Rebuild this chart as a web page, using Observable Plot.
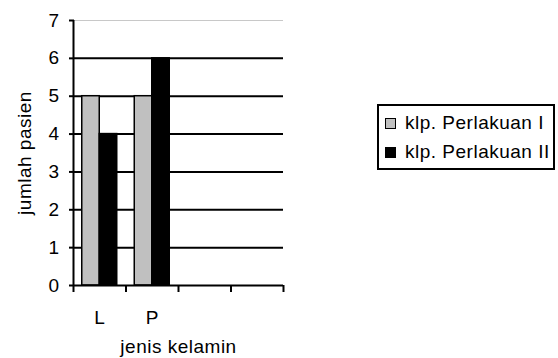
<!DOCTYPE html>
<html>
<head>
<meta charset="utf-8">
<script src="https://cdn.jsdelivr.net/npm/d3@7"></script>
<script src="https://cdn.jsdelivr.net/npm/@observablehq/plot@0.6"></script>
<style>
  body { margin: 0; background: #fff; }
  #chart { position: relative; width: 558px; height: 358px; font-family: "Liberation Sans", Arial, sans-serif; }
  #chart svg { display: block; }
  .legend { position: absolute; left: 377px; top: 104px; width: 178px; height: 66px; box-sizing: border-box;
            border: 2px solid #000; background: #fff; font-size: 19px; letter-spacing: 0.5px; color: #000; }
  .legend .item { position: absolute; left: 6px; height: 20px; display: flex; align-items: center; white-space: nowrap; }
  .legend .swatch { width: 11px; height: 11px; box-sizing: border-box; border: 1.5px solid #000; margin-right: 9px; }
</style>
</head>
<body>
<div id="chart"></div>
<script>
// Patients per sex, for the two treatment groups
const categories = ["L", "P"];
const slotCount = 4;                       // category slots on the x axis (last two empty)
const seriesNames = ["klp. Perlakuan I", "klp. Perlakuan II"];
const perlakuanI = [5, 5];
const perlakuanII = [4, 6];
const yTicks = [0, 1, 2, 3, 4, 5, 6, 7];
const xLabel = "jenis kelamin";
const yLabel = "jumlah pasien";
const seriesColors = ["#c0c0c0", "#000000"];

const seriesValues = [perlakuanI, perlakuanII];
const rows = categories.flatMap((cat, i) =>
  seriesValues.map((vals, s) => ({cat, index: i, series: s, value: vals[i]}))
);

// Two bars per slot, each a third of the slot wide, centred on the slot
const barWidth = 1 / 3;
const barX1 = d => d.index + 0.5 + (d.series - 1) * barWidth;
const barX2 = d => barX1(d) + barWidth;

const font = "'Liberation Sans', Arial, sans-serif";
const fontSize = 19;
const yMax = yTicks[yTicks.length - 1];

const chart = Plot.plot({
  width: 558,
  height: 358,
  marginLeft: 73,
  marginRight: 275,
  marginTop: 20,
  marginBottom: 73,
  style: {fontFamily: font, fontSize: `${fontSize}px`, color: "#000", background: "#fff"},
  x: {domain: [0, slotCount]},
  y: {domain: [0, yMax]},
  marks: [
    // top edge of the plot area
    Plot.ruleY([yMax], {stroke: "#c8c8c8", strokeWidth: 1}),
    // horizontal gridlines
    Plot.ruleY(yTicks.filter(v => v > 0 && v < yMax), {stroke: "#000", strokeWidth: 2}),
    Plot.rectY(rows, {
      x1: barX1, x2: barX2, y1: 0, y2: "value",
      fill: d => seriesColors[d.series],
      stroke: "#000", strokeWidth: 1.5
    }),
    // axis lines
    Plot.ruleX([0], {stroke: "#000", strokeWidth: 2}),
    Plot.ruleY([0], {stroke: "#000", strokeWidth: 2}),
    Plot.axisY({ticks: yTicks, tickFormat: "d", tickSize: 5, tickPadding: 10, strokeWidth: 2, fontSize, label: null, dx: 1}),
    // tick marks at the slot boundaries
    Plot.axisX({ticks: d3.range(slotCount + 1), tickSize: 7, strokeWidth: 2, tickFormat: () => "", label: null}),
    // category names under each slot
    Plot.text(categories, {
      x: (d, i) => i + 0.5, text: d => d, frameAnchor: "bottom", dy: 32,
      lineAnchor: "middle", fontSize
    }),
    Plot.text([xLabel], {frameAnchor: "bottom", dy: 61, lineAnchor: "middle", textAnchor: "middle", fontSize}),
    Plot.text([yLabel], {frameAnchor: "left", dx: -49, rotate: -90, lineAnchor: "middle", textAnchor: "middle", fontSize})
  ]
});

// slight letter spacing for the labels
d3.select(chart).selectAll("text").style("letter-spacing", "0.5px");

const host = document.getElementById("chart");
host.appendChild(chart);

// legend box on the right
const legend = d3.select(host).append("div").attr("class", "legend");
const rowCenters = [17, 46];
seriesNames.forEach((name, s) => {
  const item = legend.append("div").attr("class", "item").style("top", `${rowCenters[s] - 10}px`);
  item.append("div").attr("class", "swatch").style("background", seriesColors[s]);
  item.append("span").text(name);
});
</script>
</body>
</html>
